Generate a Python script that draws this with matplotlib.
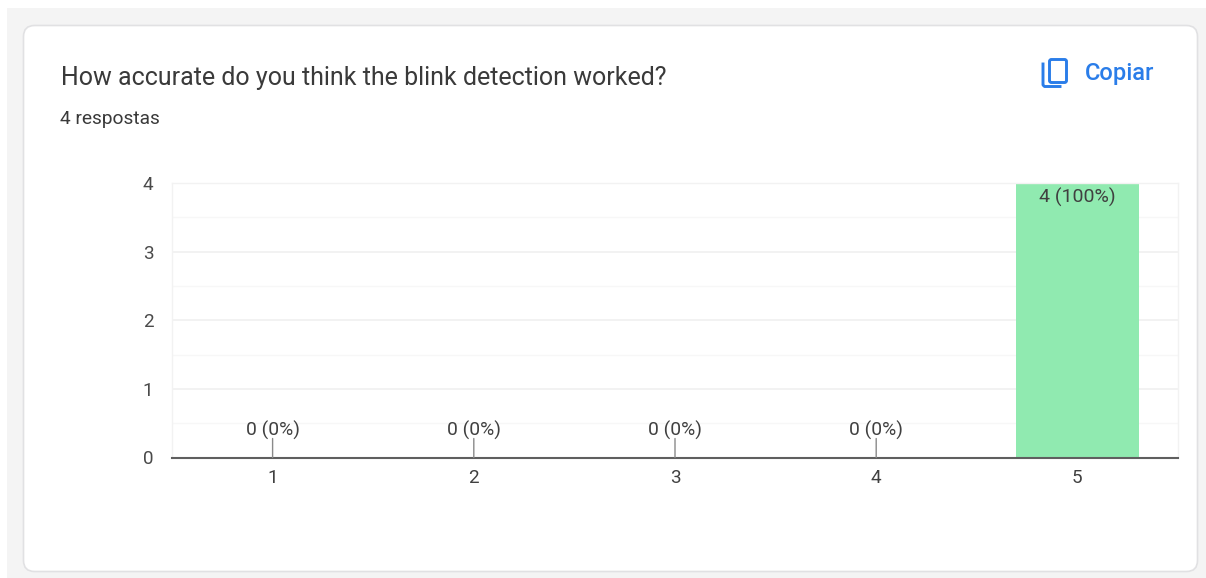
import matplotlib
matplotlib.use("Agg")
import matplotlib.pyplot as plt
from matplotlib.patches import FancyBboxPatch, Rectangle
from matplotlib.lines import Line2D

plt.rcParams['font.family'] = ['Roboto', 'DejaVu Sans']

TITLE = "How accurate do you think the blink detection worked?"
SUBTITLE = "4 respostas"
COPY_LABEL = "Copiar"

ratings = [1, 2, 3, 4, 5]
counts = [0, 0, 0, 0, 4]
bar_labels = ["0 (0%)", "0 (0%)", "0 (0%)", "0 (0%)", "4 (100%)"]
major_ticks = [0, 1, 2, 3, 4]
minor_ticks = [0.5, 1.5, 2.5, 3.5]

W, H = 1206, 578
TEXT = "#404040"
BLUE = "#2a7de9"

fig = plt.figure(figsize=(W / 100, H / 100), dpi=100, facecolor="white")

# page background and card, laid out in pixels
bg = fig.add_axes([0, 0, 1, 1])
bg.set_xlim(0, W)
bg.set_ylim(H, 0)
bg.axis("off")
bg.add_patch(Rectangle((7, 8), W - 7, H - 8, fc="#f4f4f4", ec="none"))
bg.add_patch(FancyBboxPatch((23.5, 25.5), 1174, 546, boxstyle="round,pad=0,rounding_size=11",
                            fc="white", ec="#e1e1e3", lw=1.2))

bg.text(61, 77.5, TITLE, fontsize=18, color="#3a3a3a", va="center", ha="left")
bg.text(60.5, 118.5, SUBTITLE, fontsize=13.8, color="#3a3a3a", va="center", ha="left")
bg.text(1085, 73.5, COPY_LABEL, fontsize=17, color=BLUE, va="center", ha="left", fontweight="medium")

# copy icon: front sheet plus the L-shaped edge of the one behind
bg.add_patch(FancyBboxPatch((1049.5, 59.5), 17, 23, boxstyle="round,pad=0,rounding_size=2",
                            fc="none", ec=BLUE, lw=2.1))
bg.add_line(Line2D([1043, 1043, 1044.5, 1060], [64, 85, 86.5, 86.5], color=BLUE, lw=2.1))

# bar chart
ax = fig.add_axes([172 / W, 1 - 457.5 / H, (1178 - 172) / W, (457.5 - 183) / H])
ax.patch.set_alpha(0)
ax.set_xlim(0.5, 5.5)
ax.set_ylim(0, 4)
ax.set_yticks(major_ticks)
ax.set_yticks(minor_ticks, minor=True)
ax.set_xticks(ratings)
ax.set_xticklabels([str(r) for r in ratings])
ax.grid(axis="y", which="major", color="#efefef", lw=1.1)
ax.grid(axis="y", which="minor", color="#f7f7f7", lw=1)
ax.set_axisbelow(True)

for side in ["top", "left", "right"]:
    ax.spines[side].set_color("#f2f2f2")
    ax.spines[side].set_linewidth(1)
ax.spines["bottom"].set_color("#5f5f5f")
ax.spines["bottom"].set_linewidth(1.5)
ax.tick_params(axis="both", which="both", length=0)
ax.tick_params(axis="x", labelsize=13.6, labelcolor=TEXT, pad=8)
ax.tick_params(axis="y", labelsize=13.6, labelcolor="#4a4a4a", pad=13.5)

ax.bar(ratings, counts, width=0.615, color="#90eab0", zorder=2)

for r, c, label in zip(ratings, counts, bar_labels):
    if c == 0:
        # empty categories get a short stem up to their label
        ax.annotate("", xy=(r, 0), xytext=(0, 19), textcoords="offset pixels",
                    arrowprops=dict(arrowstyle="-", color="#8a8a8a", lw=1, shrinkA=0, shrinkB=0))
        ax.annotate(label, xy=(r, 0), xytext=(0, 27), textcoords="offset pixels",
                    ha="center", va="center", fontsize=13.9, color=TEXT)
    else:
        ax.annotate(label, xy=(r, c), xytext=(0, -14), textcoords="offset pixels",
                    ha="center", va="center", fontsize=14, color=TEXT, zorder=3)

fig.savefig("out.png", dpi=100)
